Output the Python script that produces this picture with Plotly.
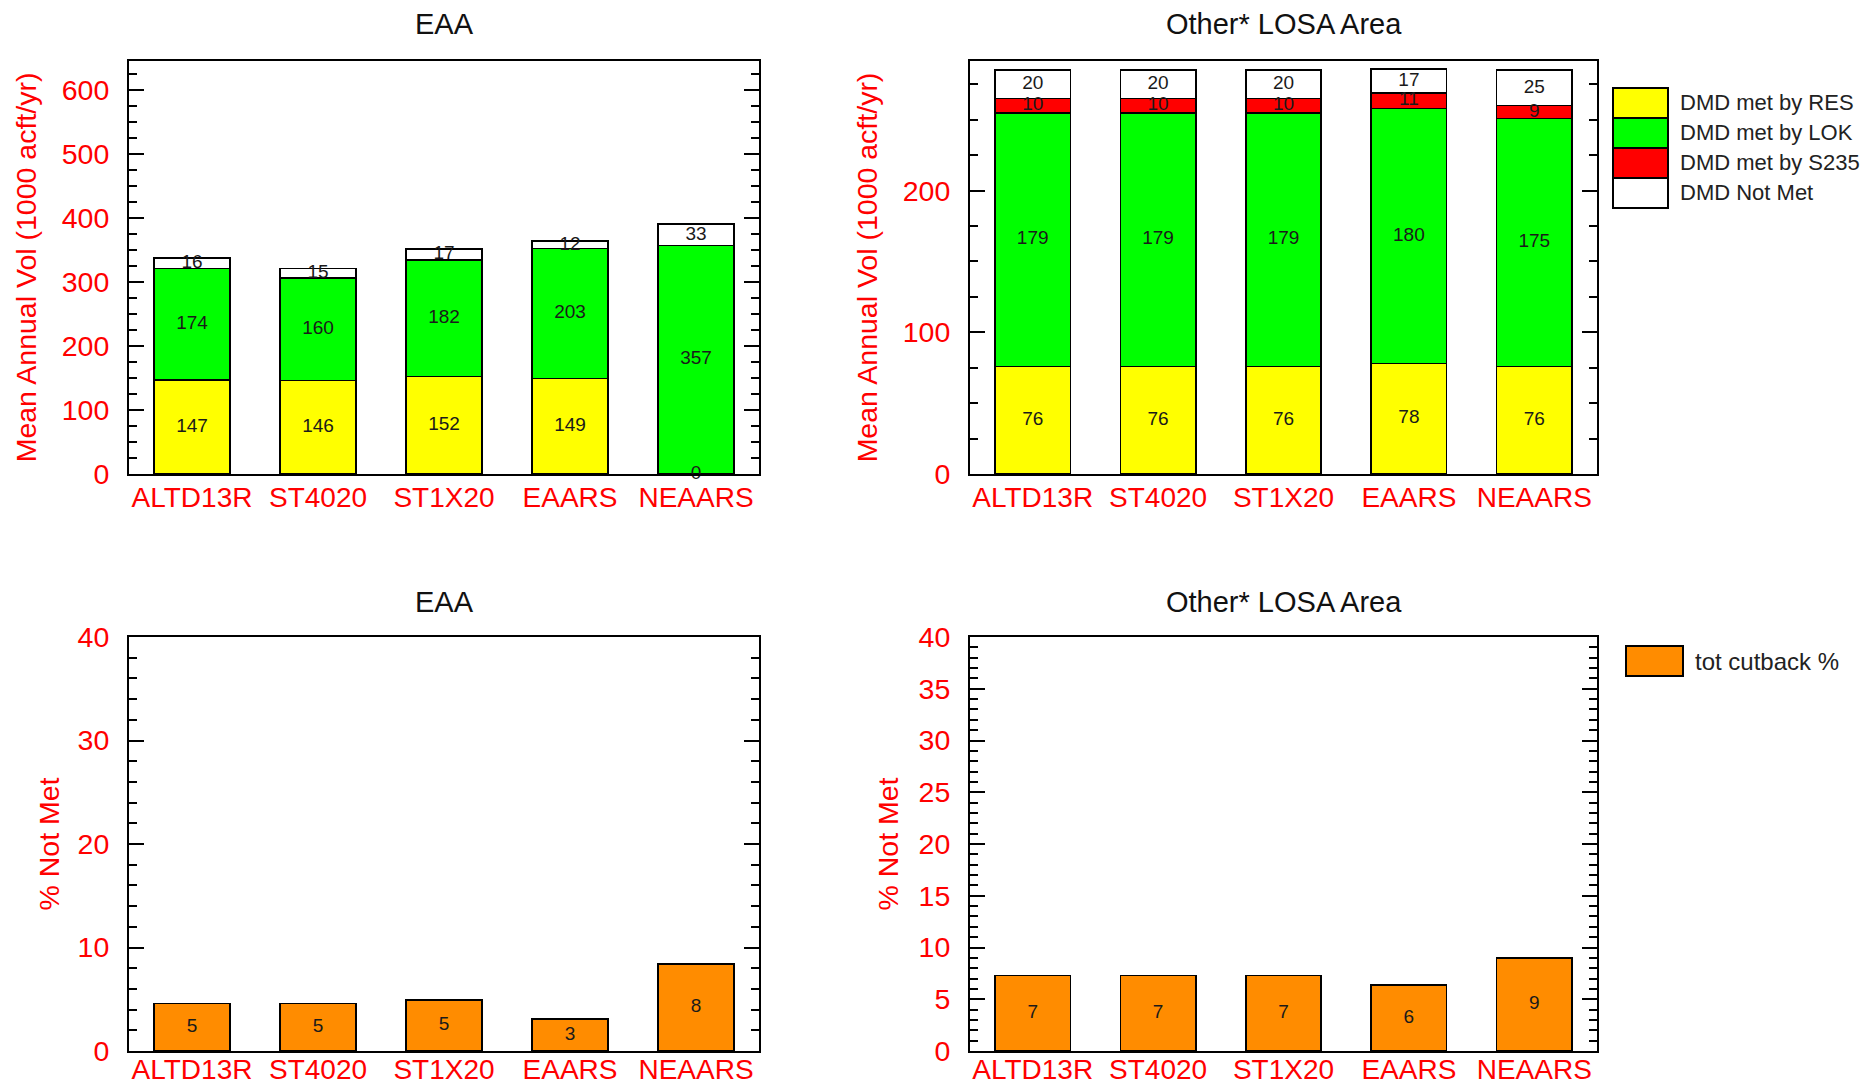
import plotly.graph_objects as go
import numpy as np

# ---- data ----
categories = ["ALTD13R", "ST4020", "ST1X20", "EAARS", "NEAARS"]

eaa_res = [147, 146, 152, 149, 0]
eaa_lok = [174, 160, 182, 203, 357]
eaa_not_met = [16, 15, 17, 12, 33]

losa_res = [76, 76, 76, 78, 76]
losa_lok = [179, 179, 179, 180, 175]
losa_s235 = [10, 10, 10, 11, 9]
losa_not_met = [20, 20, 20, 17, 25]

eaa_cutback_pct = [4.6, 4.6, 4.9, 3.1, 8.4]
losa_cutback_pct = [7.3, 7.3, 7.3, 6.4, 9.0]

series_names = ["DMD met by RES", "DMD met by LOK", "DMD met by S235", "DMD Not Met"]
series_colors = ["#FFFF00", "#00FF00", "#FF0000", "#FFFFFF"]
cutback_name = "tot cutback %"
cutback_color = "#FF8C00"

panel_titles = ["EAA", "Other* LOSA Area", "EAA", "Other* LOSA Area"]
vol_title = "Mean Annual Vol (1000 acft/yr)"
pct_title = "% Not Met"

# ---- figure geometry (pixels) ----
W, H = 1875, 1087
FONT = "Liberation Sans, Arial, Helvetica, sans-serif"
RED = "#FF0000"


def fx(px):
    return px / W


def fy(py):
    return 1 - py / H


left_x = (129, 759)
right_x = (970, 1597)
top_y = (61, 474)
bot_y = (637, 1051)

fig = go.Figure()


def add_stack(xa, ya, segments):
    """Stacked bars plus centred value labels for one panel."""
    base = np.zeros(len(categories))
    lab_y, lab_t = [], []
    for vals, name, color in segments:
        vals = np.asarray(vals, dtype=float)
        fig.add_trace(go.Bar(
            x=categories, y=vals, name=name, xaxis=xa, yaxis=ya,
            marker=dict(color=color, line=dict(color="black", width=1.6)),
            showlegend=False, hoverinfo="skip",
        ))
        lab_y.extend(base + vals / 2)
        lab_t.extend(f"{v:.0f}" for v in vals)
        base = base + vals
    fig.add_trace(go.Scatter(
        x=categories * len(segments), y=lab_y, text=lab_t, mode="text",
        textfont=dict(family=FONT, size=19, color="#1a1a1a"),
        xaxis=xa, yaxis=ya, showlegend=False, hoverinfo="skip",
        cliponaxis=False,
    ))


add_stack("x", "y", [
    (eaa_res, series_names[0], series_colors[0]),
    (eaa_lok, series_names[1], series_colors[1]),
    (eaa_not_met, series_names[3], series_colors[3]),
])
add_stack("x2", "y2", [
    (losa_res, series_names[0], series_colors[0]),
    (losa_lok, series_names[1], series_colors[1]),
    (losa_s235, series_names[2], series_colors[2]),
    (losa_not_met, series_names[3], series_colors[3]),
])
add_stack("x3", "y3", [(eaa_cutback_pct, cutback_name, cutback_color)])
add_stack("x4", "y4", [(losa_cutback_pct, cutback_name, cutback_color)])


def xaxis_cfg(xr, anchor, label_gap):
    return dict(
        domain=[fx(xr[0]), fx(xr[1])], anchor=anchor, type="category",
        automargin=False,
        showline=True, mirror=True, linecolor="black", linewidth=2,
        ticks="", showgrid=False, zeroline=False,
        tickfont=dict(family=FONT, size=28, color=RED),
        ticklabelstandoff=label_gap,
    )


def yaxis_cfg(yr, anchor, rng, dtick, minor, title, title_gap):
    return dict(
        domain=[fy(yr[1]), fy(yr[0])], anchor=anchor, range=rng,
        automargin=False,
        showline=True, mirror="ticks", linecolor="black", linewidth=2,
        ticks="inside", ticklen=15, tickwidth=2, tickcolor="black",
        dtick=dtick, tick0=0,
        minor=dict(ticks="inside", ticklen=8, tickwidth=2, tickcolor="black",
                   dtick=minor, tick0=0, showgrid=False),
        showgrid=False, zeroline=False,
        tickfont=dict(family=FONT, size=28.5, color=RED),
        ticklabelstandoff=12,
        title=dict(text=title, font=dict(family=FONT, size=28.5, color=RED),
                   standoff=title_gap),
    )


fig.update_layout(
    width=W, height=H,
    margin=dict(l=0, r=0, t=0, b=0, autoexpand=False),
    paper_bgcolor="white", plot_bgcolor="white",
    barmode="stack", bargap=0.4,
    font=dict(family=FONT),
    xaxis=xaxis_cfg(left_x, "y", -3),
    xaxis2=xaxis_cfg(right_x, "y2", -3),
    xaxis3=xaxis_cfg(left_x, "y3", -8),
    xaxis4=xaxis_cfg(right_x, "y4", -8),
    yaxis=yaxis_cfg(top_y, "x", [0, 645], 100, 25, vol_title, 17),
    yaxis2=yaxis_cfg(top_y, "x2", [0, 291.5], 100, 25, vol_title, 17),
    yaxis3=yaxis_cfg(bot_y, "x3", [0, 40], 10, 2, pct_title, 10),
    yaxis4=yaxis_cfg(bot_y, "x4", [0, 40], 5, 1, pct_title, 12),
)

# ---- panel titles ----
annotations = []
for (xr, ty), title in zip(
        [(left_x, 24), (right_x, 24), (left_x, 602), (right_x, 602)], panel_titles):
    annotations.append(dict(
        x=fx((xr[0] + xr[1]) / 2), y=fy(ty), xref="paper", yref="paper",
        text=title, showarrow=False, xanchor="center", yanchor="middle",
        font=dict(family=FONT, size=29, color="#111111"),
    ))

# ---- legends drawn as swatches with text ----
shapes = []
row_h = 30
for i, (name, color) in enumerate(zip(series_names, series_colors)):
    y0 = 88 + i * row_h
    shapes.append(dict(
        type="rect", xref="paper", yref="paper",
        x0=fx(1613), x1=fx(1668), y0=fy(y0 + row_h), y1=fy(y0),
        fillcolor=color, line=dict(color="black", width=2),
    ))
    annotations.append(dict(
        x=fx(1678), y=fy(y0 + row_h / 2), xref="paper", yref="paper",
        text=name, showarrow=False, xanchor="left", yanchor="middle",
        font=dict(family=FONT, size=22, color="#222222"),
    ))

shapes.append(dict(
    type="rect", xref="paper", yref="paper",
    x0=fx(1626), x1=fx(1683), y0=fy(676), y1=fy(646),
    fillcolor=cutback_color, line=dict(color="black", width=2),
))
annotations.append(dict(
    x=fx(1693), y=fy(661), xref="paper", yref="paper",
    text=cutback_name, showarrow=False, xanchor="left", yanchor="middle",
    font=dict(family=FONT, size=24, color="#222222"),
))

fig.update_layout(annotations=annotations, shapes=shapes)

fig.write_html("out.html", config={"displayModeBar": False})
